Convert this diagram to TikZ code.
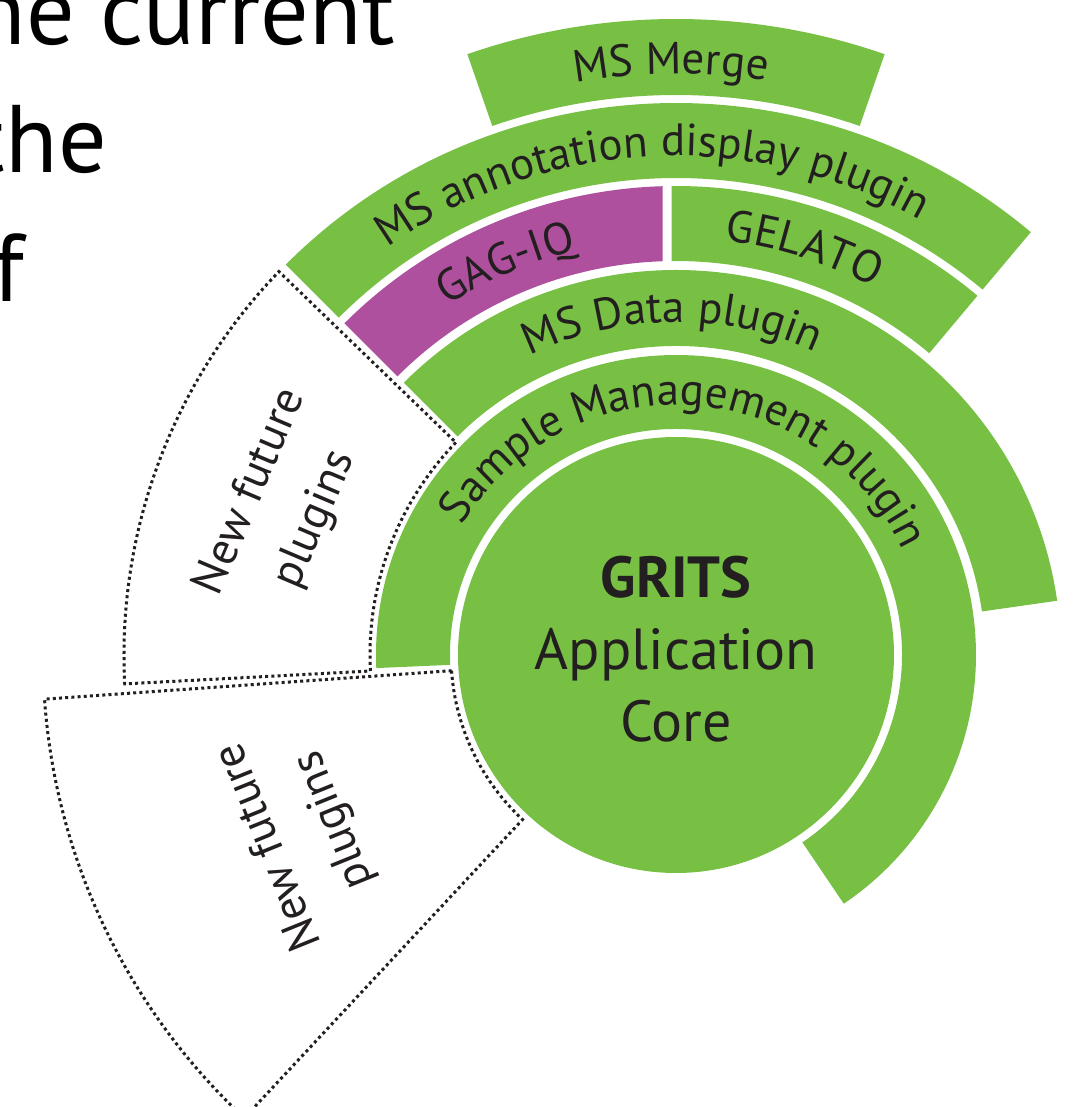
\documentclass[tikz,border=0pt]{standalone}
\usepackage{fontspec}
\setmainfont{PT Sans}
\usetikzlibrary{decorations.text}
\definecolor{grn}{RGB}{119,192,68}
\definecolor{pur}{RGB}{175,80,158}
\definecolor{ink}{RGB}{35,31,32}
\newcommand{\annsec}[5]{\path[#1] (#2:#4pt) arc[start angle=#2, end angle=#3, radius=#4pt] -- (#3:#5pt) arc[start angle=#3, end angle=#2, radius=#5pt] -- cycle;}
\newcommand{\arclabel}[4]{\path[decorate, decoration={text along path, text={#1}, text align=center, text color=ink}] (#2:#4pt) arc[start angle=#2, end angle=#3, radius=#4pt];}
\tikzset{
  seg/.style={fill=grn},
  dotsec/.style={draw=ink, line width=3pt, dash pattern=on 3pt off 3.2pt, fill=white},
  bigtext/.style={anchor=base east, inner sep=0pt, text=black, font=\fontsize{96}{114}\selectfont},
  coretext/.style={anchor=base, inner sep=0pt, text=ink, font=\fontsize{58}{70}\selectfont},
  futtext/.style={align=center, inner sep=0pt, text=ink, font=\fontsize{46}{70}\selectfont}
}
\begin{document}
\begin{tikzpicture}[x=1pt,y=1pt]
\useasboundingbox (-676,-452) rectangle (414,655);
\clip (-676,-452) rectangle (414,655);
% cropped paragraph text
\node[bigtext] (t1) at (-281,610) {the current};
\node[bigtext] (t2) at (-569,482) {the};
\node[bigtext] (t3) at (-652,353) {of};
% core
\fill[grn] (0,0) circle[radius=218pt];
% rings
\annsec{seg}{-56}{182.5}{226}{300}
\annsec{seg}{8.1}{135}{309}{385}
\path[fill=grn] (50:394pt) arc[start angle=50, end angle=90.625, radius=394pt] -- (90.525:469pt) arc[start angle=90.525, end angle=50, radius=469pt] -- cycle;
\path[fill=pur] (91.934:394pt) -- (91.625:469pt) arc[start angle=91.625, end angle=135, radius=469pt] -- (135:394pt) arc[start angle=135, end angle=91.934, radius=394pt] -- cycle;
\annsec{seg}{50}{135}{477}{552}
\annsec{seg}{70.85}{109.15}{560}{636}
% future sectors
\annsec{dotsec}{136}{183}{306}{552}
\annsec{dotsec}{184}{227}{225}{633}
% arc labels
\begin{scope}
\fontsize{45}{54}\selectfont
\arclabel{MS Merge}{111.5}{69.5}{581}
\arclabel{MS annotation display plugin}{160}{26}{499}
\arclabel{GAG-IQ}{134}{93}{417}
\arclabel{GELATO}{92}{53}{417}
\arclabel{MS Data plugin}{150}{31.4}{333}
\arclabel{Sample Management plugin}{176.8}{-3.2}{250}
\end{scope}
% core labels
\node[coretext, font=\bfseries\fontsize{58}{70}\selectfont] (grits) at (0,57) {GRITS};
\node[coretext] (app) at (0,-15) {Application};
\node[coretext] (core) at (0,-87) {Core};
% future labels
\node[futtext, rotate=67] (nf1) at (159.2:420pt) {New future\\plugins};
\node[futtext, rotate=112] (nf2) at (205.5:414pt) {New future\\plugins};
\end{tikzpicture}
\end{document}
